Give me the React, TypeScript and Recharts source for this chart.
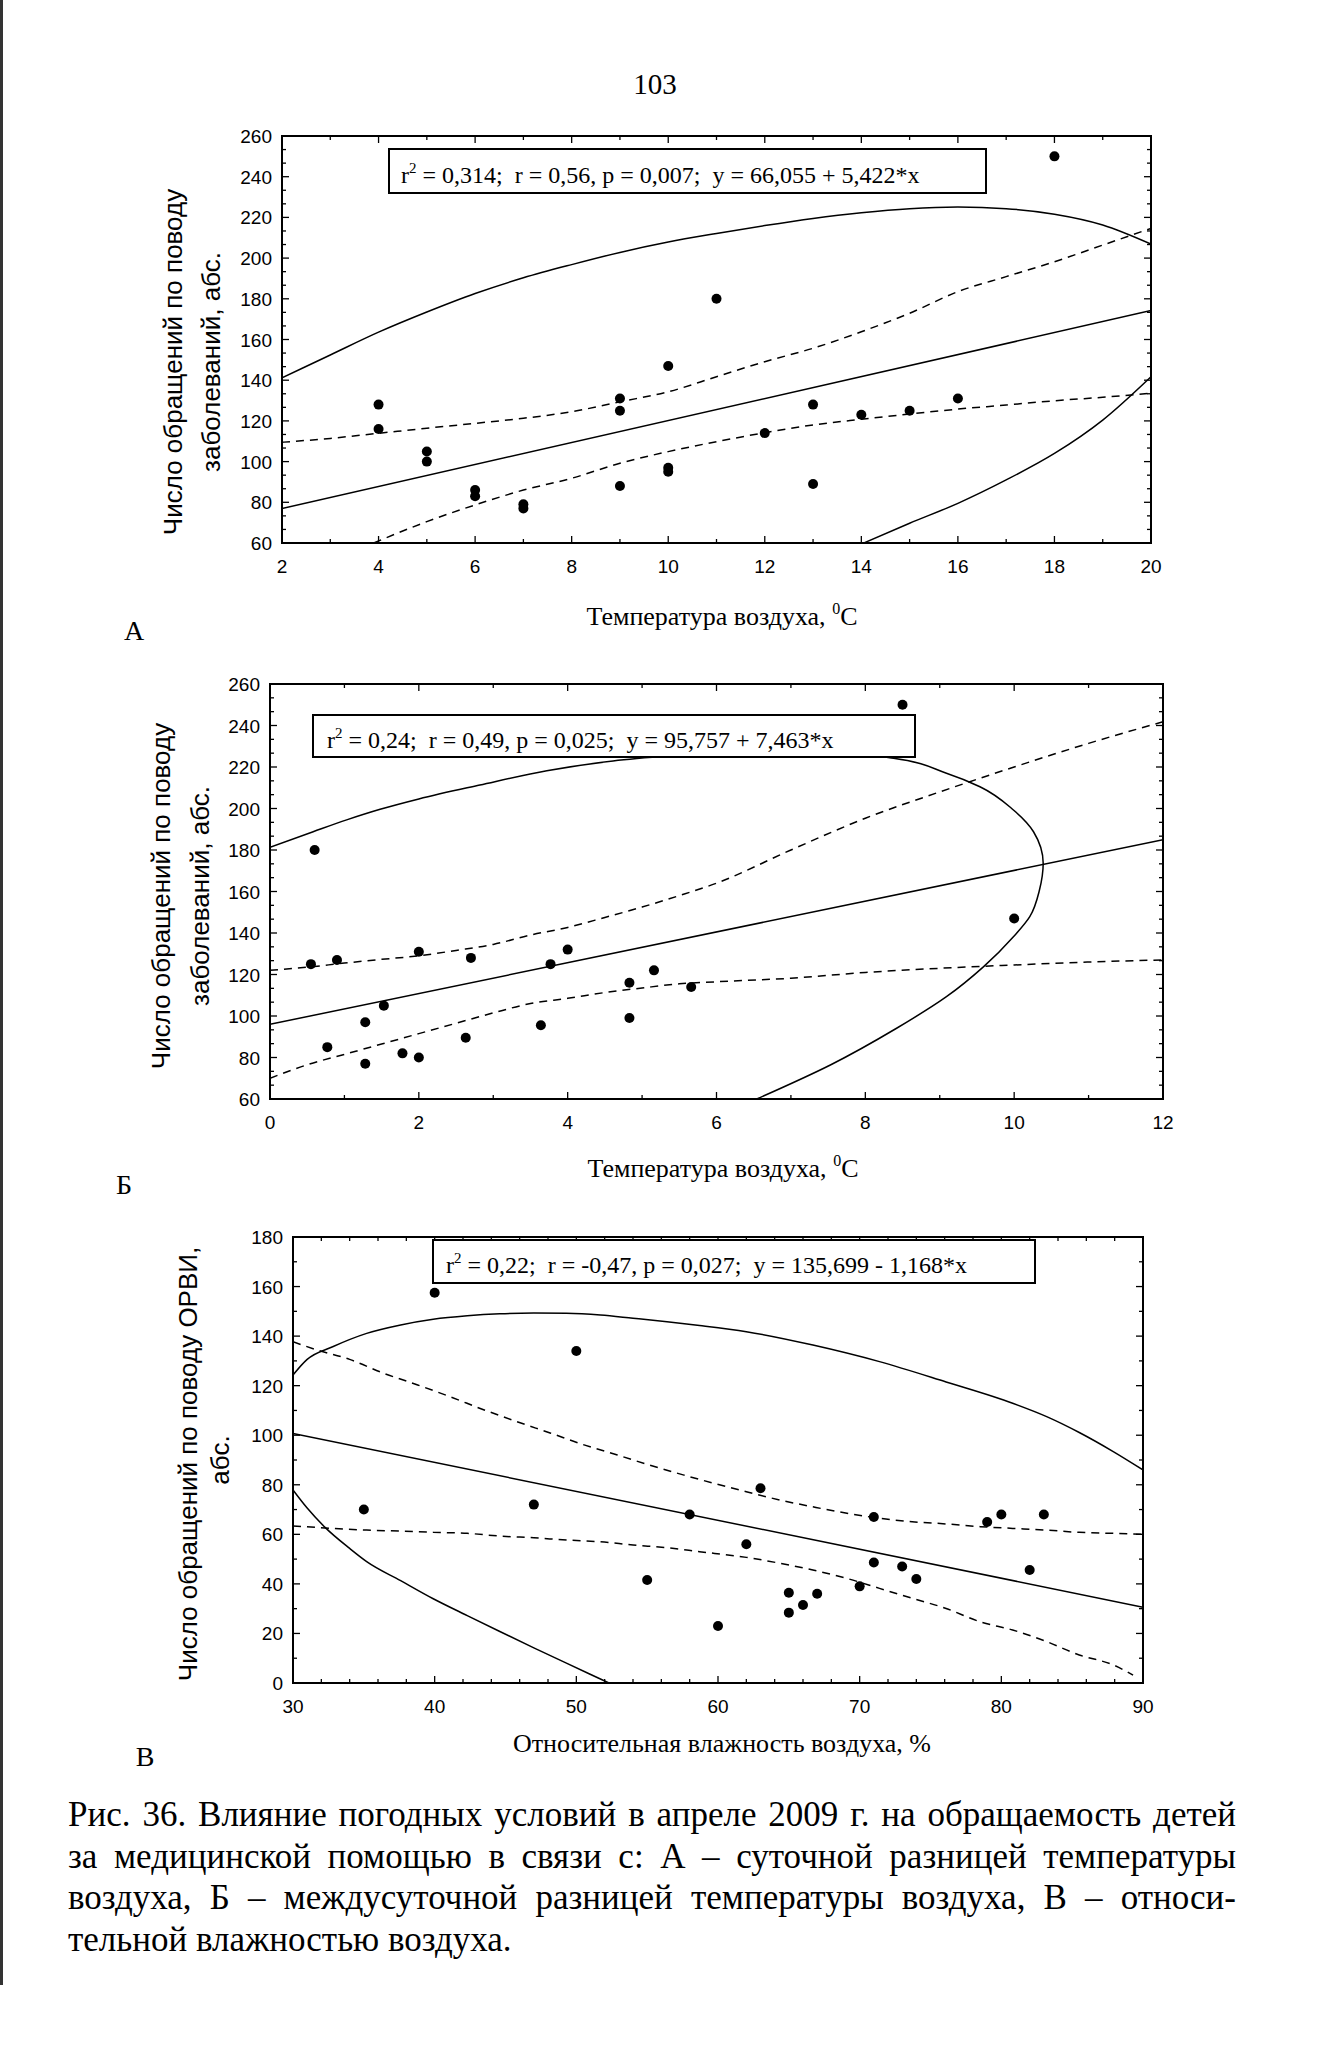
import React from "react";
import { ComposedChart, Line, Scatter, XAxis, YAxis, ReferenceArea } from "recharts";

const PAGE_W = 1326;
const PAGE_H = 2050;

type Pt = { x: number; y: number };
const xy = (rows: number[][]): Pt[] => rows.map(([x, y]) => ({ x, y }));

// ---------- А: суточная разница температуры ----------
const pointsA = xy([
  [4, 128], [4, 116], [5, 105], [5, 100], [6, 86], [6, 83], [7, 79], [7, 77],
  [9, 131], [9, 125], [9, 88], [10, 147], [10, 97], [10, 95], [11, 180],
  [12, 114], [13, 128], [13, 89], [14, 123], [15, 125], [16, 131], [18, 250],
]);
const fitA = xy([[2, 77], [20, 174.2]]);
const upperBandA = xy([
  [2, 109.5], [3, 111.4], [4, 113.9], [5, 116.4], [6, 118.8], [7, 121.3], [8, 124.5],
  [9, 129.4], [10, 134.3], [11, 141.7], [12, 149.1], [13, 155.7], [14, 163.8],
  [15, 172.9], [16, 183.5], [17, 190.9], [18, 198.2], [19, 206.4], [20, 214.6],
]);
const lowerBandA = xy([
  [3.9, 60], [5, 70.5], [6, 78.7], [7, 86], [8, 91.8], [9, 99.2], [10, 104.9],
  [11, 109.8], [12, 114.2], [13, 118], [14, 120.8], [15, 123.4], [16, 125.8],
  [17, 127.8], [18, 129.9], [19, 131.6], [20, 133.6],
]);
const ellipseTopA = xy([
  [2, 141.2], [3, 152.4], [4, 163.6], [5, 173.5], [6, 182.6], [7, 190.3], [8, 196.8],
  [9, 202.8], [10, 207.9], [11, 212.1], [12, 216], [13, 219.5], [14, 222.3],
  [15, 224.3], [16, 225.1], [17, 224.3], [18, 221.6], [19, 216.3], [20, 206.9],
]);
const ellipseBottomA = xy([
  [14.05, 60], [15, 69.7], [16, 79.5], [17, 91], [18, 104], [19, 120.4], [20, 141.7],
]);
const xLabelsA = [2, 4, 6, 8, 10, 12, 14, 16, 18, 20];
const yLabelsA = [60, 80, 100, 120, 140, 160, 180, 200, 220, 240, 260];

// ---------- Б: междусуточная разница температуры ----------
const pointsB = xy([
  [0.55, 125], [0.6, 180], [0.77, 85], [0.9, 127], [1.28, 97], [1.28, 77],
  [1.53, 105], [1.78, 82], [2.0, 131], [2.0, 80], [2.63, 89.5], [2.7, 128],
  [3.64, 95.5], [3.77, 125], [4.0, 132], [4.83, 116], [4.83, 99], [5.16, 122],
  [5.66, 114], [8.5, 250], [10, 147],
]);
const fitB = xy([[0, 96], [12, 185]]);
const upperBandB = xy([
  [0, 122], [0.5, 123.5], [1, 125.5], [1.5, 127.3], [2, 129], [2.5, 131.6], [3, 134.5],
  [3.5, 139], [4, 142.7], [4.5, 147.5], [5, 152.5], [5.5, 158], [6, 164], [7, 180],
  [8, 195.3], [9, 208], [10, 220], [11, 231.4], [12, 241.8],
]);
const lowerBandB = xy([
  [0, 70], [0.5, 76.5], [1, 81.5], [1.5, 86.5], [2, 91.5], [2.5, 96.5], [3, 101.5],
  [3.5, 106], [4, 108.5], [4.5, 111.3], [5, 113.5], [5.5, 115.5], [6, 116.5],
  [7, 118.2], [8, 121], [9, 123], [10, 124.6], [11, 126], [12, 127],
]);
// ellipse: rising left arc up to its top, then the right side all the way down
const ellipseLeftB = xy([
  [0, 181.3], [0.58, 188.8], [1.03, 194.5], [1.48, 199.6], [2.0, 204.6], [2.82, 211.3],
  [3.72, 218.2], [4.61, 222.9], [5.42, 225.5], [6.3, 227.5], [7.2, 228],
]);
const ellipseRightB = xy([
  [7.2, 228], [8.0, 226], [8.38, 224.2], [9.09, 217], [9.54, 210.5], [9.99, 199.3],
  [10.26, 188.8], [10.39, 173.6], [10.34, 160.7], [10.21, 147.9], [9.99, 138.2],
  [9.59, 123.8], [9.09, 109.3], [8.42, 94.1], [7.53, 76.4], [6.54, 60],
]);
const xLabelsB = [0, 2, 4, 6, 8, 10, 12];
const yLabelsB = [60, 80, 100, 120, 140, 160, 180, 200, 220, 240, 260];

// ---------- В: относительная влажность ----------
const pointsC = xy([
  [35, 70], [40, 157.5], [47, 72], [50, 134], [55, 41.6], [58, 68], [60, 23],
  [62, 56], [63, 78.6], [65, 36.4], [65, 28.4], [66, 31.5], [67, 36], [70, 39],
  [71, 67], [71, 48.6], [73, 47], [74, 42], [79, 65], [80, 68], [82, 45.6], [83, 68],
]);
const fitC = xy([[30, 100.7], [90, 30.6]]);
const upperBandC = xy([
  [30, 137.7], [31.7, 134.4], [34, 130.6], [36.4, 125], [38.8, 120.3], [41.1, 115.5],
  [43.5, 110.2], [45.8, 105.5], [48.2, 100.8], [50.6, 96], [52.9, 92], [55.2, 87.9],
  [57.6, 83.9], [59.7, 80.6], [62, 77.2], [64.4, 73.8], [66.7, 71.1], [69.1, 68.5],
  [71.4, 66.5], [73.7, 65.1], [76.1, 64.2], [78.5, 63.1], [80.8, 62.4], [83.2, 61.7],
  [85.5, 60.8], [87.9, 60.4], [90, 60],
]);
const lowerBandC = xy([
  [30, 63.4], [32.8, 62.4], [35.2, 61.7], [37.6, 61.3], [39.9, 60.8], [42.3, 60.4],
  [44.6, 59.3], [47, 58.6], [49.3, 57.7], [51.7, 57], [54, 55.7], [56.4, 54.6],
  [58.7, 53], [62, 50.7], [64.4, 48.3], [66.7, 45.6], [69.1, 42.2], [71.4, 38.2],
  [73.7, 34.2], [76.1, 30.1], [78.5, 24.7], [80.8, 21.4], [83.2, 16.7], [85.5, 11.3],
  [87.9, 7.3], [89.3, 3.2],
]);
const ellipseTopC = xy([
  [30, 124.3], [31, 130.6], [32.8, 135.7], [35.2, 141.1], [37.6, 144.5], [39.9, 146.8],
  [42.3, 148.2], [44.6, 149], [47, 149.3], [49.3, 149.2], [51.7, 148.5], [54, 147.2],
  [56.4, 145.8], [58.7, 144.3], [62, 141.8], [66.7, 136.4], [71.4, 129.7],
  [76.1, 121.5], [80.8, 112.9], [83.2, 107.5], [85.5, 101.1], [87.9, 93.4], [90, 86],
]);
const ellipseBottomC = xy([
  [30, 77.9], [31, 70.6], [32.3, 62.6], [34, 54.3], [35.2, 49], [37.6, 41.3],
  [39.9, 34], [42.3, 27.2], [44.6, 20.8], [47, 14.2], [49.3, 8], [51.7, 1.6], [52.3, 0],
]);
const xLabelsC = [30, 40, 50, 60, 70, 80, 90];
const yLabelsC = [0, 20, 40, 60, 80, 100, 120, 140, 160, 180];

// minor ticks between labelled ones
function withMinors(majors: number[], parts: number) {
  const out: number[] = [];
  majors.forEach((m, i) => {
    out.push(m);
    if (i < majors.length - 1) {
      const step = (majors[i + 1] - m) / parts;
      for (let k = 1; k < parts; k++) out.push(m + step * k);
    }
  });
  return out;
}

const SANS = '"Liberation Sans", Arial, sans-serif';
const SERIF = '"Liberation Serif", "Times New Roman", serif';

const Dot = (p: any) => <circle cx={p.cx} cy={p.cy} r={5} fill="#000" />;

function Panel(props: any) {
  const { top, height, plot, xDomain, yDomain, xLabels, xParts, yLabels, yParts, points, fit, bands, ellipses } = props;
  // axes get 1px of room (a zero-sized axis is not drawn at all)
  const margin = {
    top: plot.top - top,
    bottom: top + height - plot.bottom - 1,
    left: plot.left - 1,
    right: PAGE_W - plot.right,
  };
  const frameTop = plot.top - top;
  const frameRight = plot.right;
  const plotLeft = plot.left;
  const plotBottom = plot.bottom - top;

  const xTick = (p: any) => {
    const v = p.payload.value;
    const major = xLabels.includes(v);
    const len = major ? 7 : 4;
    const x = p.x;
    return (
      <g>
        <line x1={x} x2={x} y1={plotBottom} y2={plotBottom - len} stroke="#000" strokeWidth={1.3} />
        <line x1={x} x2={x} y1={frameTop} y2={frameTop + len} stroke="#000" strokeWidth={1.3} />
        {major && (
          <text x={x} y={plotBottom + 30} textAnchor="middle" fontFamily={SANS} fontSize={19} fill="#000">
            {v}
          </text>
        )}
      </g>
    );
  };

  const yTick = (p: any) => {
    const v = p.payload.value;
    const major = yLabels.includes(v);
    const len = major ? 7 : 4;
    const y = p.y;
    return (
      <g>
        <line x1={plotLeft} x2={plotLeft + len} y1={y} y2={y} stroke="#000" strokeWidth={1.3} />
        <line x1={frameRight} x2={frameRight - len} y1={y} y2={y} stroke="#000" strokeWidth={1.3} />
        {major && (
          <text x={plotLeft - 10} y={y + 7} textAnchor="end" fontFamily={SANS} fontSize={19} fill="#000">
            {v}
          </text>
        )}
      </g>
    );
  };

  return (
    <div style={{ position: "absolute", left: 0, top }}>
      <ComposedChart width={PAGE_W} height={height} margin={margin}>
        <XAxis
          type="number"
          dataKey="x"
          domain={xDomain}
          ticks={withMinors(xLabels, xParts)}
          interval={0}
          allowDataOverflow
          height={1}
          tickSize={0}
          tickMargin={0}
          axisLine={false}
          tickLine={false}
          tick={xTick}
        />
        <YAxis
          type="number"
          dataKey="y"
          domain={yDomain}
          ticks={withMinors(yLabels, yParts)}
          interval={0}
          allowDataOverflow
          width={1}
          tickSize={0}
          tickMargin={0}
          axisLine={false}
          tickLine={false}
          tick={yTick}
        />
        <ReferenceArea
          x1={xDomain[0]}
          x2={xDomain[1]}
          y1={yDomain[0]}
          y2={yDomain[1]}
          fill="#fff"
          fillOpacity={0}
          stroke="#000"
          strokeWidth={2}
        />
        {ellipses.map((e: { data: Pt[]; curve: string }, i: number) => (
          <Line
            key={"e" + i}
            data={e.data}
            dataKey="y"
            type={e.curve as any}
            stroke="#000"
            strokeWidth={1.5}
            dot={false}
            activeDot={false}
            isAnimationActive={false}
          />
        ))}
        {bands.map((d: Pt[], i: number) => (
          <Line
            key={"b" + i}
            data={d}
            dataKey="y"
            type="monotone"
            stroke="#000"
            strokeWidth={1.5}
            strokeDasharray="8 6"
            dot={false}
            activeDot={false}
            isAnimationActive={false}
          />
        ))}
        <Line
          data={fit}
          dataKey="y"
          type="linear"
          stroke="#000"
          strokeWidth={1.5}
          dot={false}
          activeDot={false}
          isAnimationActive={false}
        />
        <Scatter data={points} shape={Dot} isAnimationActive={false} />
      </ComposedChart>
    </div>
  );
}

function StatBox({ x, y, w, h, tx, ty, head, rest }: any) {
  return (
    <g>
      <rect x={x} y={y} width={w} height={h} fill="#fff" stroke="#000" strokeWidth={2} />
      <text x={tx} y={ty} fontFamily={SERIF} fontSize={24} fill="#000" style={{ whiteSpace: "pre" }}>
        {head}
        <tspan dy={-10} fontSize={15}>2</tspan>
        <tspan dy={10}>{rest}</tspan>
      </text>
    </g>
  );
}

function YTitle({ cx, cy, text }: any) {
  return (
    <text
      transform={`translate(${cx},${cy}) rotate(-90)`}
      textAnchor="middle"
      dominantBaseline="central"
      fontFamily={SANS}
      fontSize={26}
      fill="#000"
    >
      {text}
    </text>
  );
}

function XTitle({ cx, y, text, unit, sup }: any) {
  return (
    <text x={cx} y={y} textAnchor="middle" fontFamily={SERIF} fontSize={26} fill="#000" style={{ whiteSpace: "pre" }}>
      {text}
      {sup && <tspan dy={-11} fontSize={16}>{sup}</tspan>}
      <tspan dy={sup ? 11 : 0}>{unit}</tspan>
    </text>
  );
}

const captionLines = [
  "Рис. 36. Влияние погодных условий в апреле 2009 г. на обращаемость детей",
  "за медицинской помощью в связи с: А – суточной разницей температуры",
  "воздуха, Б – междусуточной разницей температуры воздуха, В – относи-",
  "тельной влажностью воздуха.",
];

export default function App() {
  return (
    <div style={{ position: "absolute", left: 0, top: 0, width: PAGE_W, height: PAGE_H, background: "#fff", overflow: "hidden" }}>
      <div style={{ position: "absolute", left: 0, top: 0, width: 3, height: 1985, background: "#333" }} />

      <Panel
        top={100}
        height={500}
        plot={{ left: 282, right: 1151, top: 136, bottom: 543 }}
        xDomain={[2, 20]}
        yDomain={[60, 260]}
        xLabels={xLabelsA}
        xParts={2}
        yLabels={yLabelsA}
        yParts={3}
        points={pointsA}
        fit={fitA}
        bands={[upperBandA, lowerBandA]}
        ellipses={[
          { data: ellipseTopA, curve: "monotone" },
          { data: ellipseBottomA, curve: "monotone" },
        ]}
      />
      <Panel
        top={650}
        height={500}
        plot={{ left: 270, right: 1163, top: 684, bottom: 1099 }}
        xDomain={[0, 12]}
        yDomain={[60, 260]}
        xLabels={xLabelsB}
        xParts={2}
        yLabels={yLabelsB}
        yParts={3}
        points={pointsB}
        fit={fitB}
        bands={[upperBandB, lowerBandB]}
        ellipses={[
          { data: ellipseLeftB, curve: "monotone" },
          { data: ellipseRightB, curve: "monotoneY" },
        ]}
      />
      <Panel
        top={1200}
        height={530}
        plot={{ left: 293, right: 1143, top: 1237, bottom: 1683 }}
        xDomain={[30, 90]}
        yDomain={[0, 180]}
        xLabels={xLabelsC}
        xParts={5}
        yLabels={yLabelsC}
        yParts={2}
        points={pointsC}
        fit={fitC}
        bands={[upperBandC, lowerBandC]}
        ellipses={[
          { data: ellipseTopC, curve: "monotone" },
          { data: ellipseBottomC, curve: "monotone" },
        ]}
      />

      <svg width={PAGE_W} height={PAGE_H} style={{ position: "absolute", left: 0, top: 0, pointerEvents: "none" }}>
        <text x={655} y={94} textAnchor="middle" fontFamily={SERIF} fontSize={29} fill="#000">103</text>

        <StatBox x={389} y={149} w={597} h={44} tx={401} ty={183}
          head="r" rest=" = 0,314;  r = 0,56, p = 0,007;  y = 66,055 + 5,422*x" />
        <YTitle cx={173} cy={362} text="Число обращений по поводу" />
        <YTitle cx={211} cy={362} text="заболеваний, абс." />
        <XTitle cx={722} y={625} text="Температура воздуха, " sup="0" unit="C" />
        <text x={134} y={640} textAnchor="middle" fontFamily={SERIF} fontSize={28} fill="#000">А</text>

        <StatBox x={313} y={715} w={602} h={42} tx={327} ty={748}
          head="r" rest=" = 0,24;  r = 0,49, p = 0,025;  y = 95,757 + 7,463*x" />
        <YTitle cx={161} cy={896} text="Число обращений по поводу" />
        <YTitle cx={200} cy={896} text="заболеваний, абс." />
        <XTitle cx={723} y={1177} text="Температура воздуха, " sup="0" unit="C" />
        <text x={124} y={1194} textAnchor="middle" fontFamily={SERIF} fontSize={28} fill="#000">Б</text>

        <StatBox x={433} y={1240} w={602} h={43} tx={446} ty={1273}
          head="r" rest=" = 0,22;  r = -0,47, p = 0,027;  y = 135,699 - 1,168*x" />
        <YTitle cx={188} cy={1464} text="Число обращений по поводу ОРВИ," />
        <YTitle cx={220} cy={1460} text="абс." />
        <XTitle cx={722} y={1752} text="Относительная влажность воздуха, %" unit="" />
        <text x={145} y={1766} textAnchor="middle" fontFamily={SERIF} fontSize={28} fill="#000">В</text>
      </svg>

      <div
        style={{
          position: "absolute",
          left: 68,
          top: 1794,
          width: 1168,
          fontFamily: SERIF,
          fontSize: 35,
          lineHeight: "41.5px",
          color: "#000",
        }}
      >
        {captionLines.map((t, i) => (
          <div
            key={i}
            style={{
              textAlign: "justify",
              textAlignLast: i < captionLines.length - 1 ? "justify" : "left",
              whiteSpace: "nowrap",
            } as React.CSSProperties}
          >
            {t}
          </div>
        ))}
      </div>
    </div>
  );
}
